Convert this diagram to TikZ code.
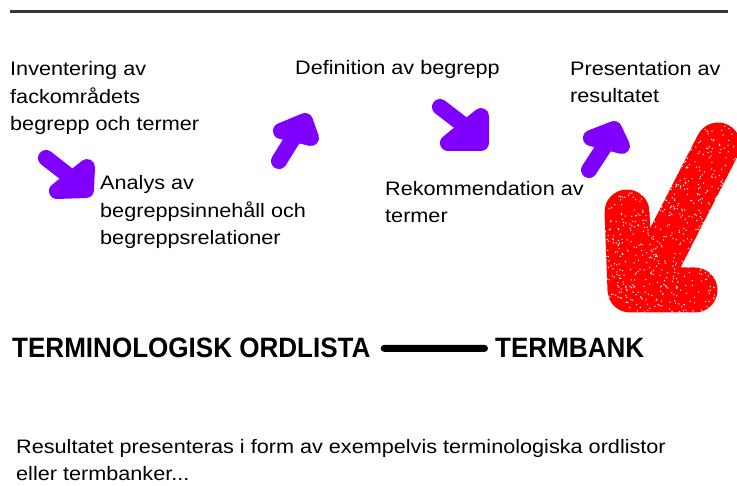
\documentclass[tikz,border=0pt]{standalone}
\usepackage{fontspec}
\setmainfont{Liberation Sans}[FakeStretch=1.11]
\newfontfamily\headfont{Liberation Sans}[FakeStretch=0.93]
\definecolor{violetarrow}{RGB}{128,0,255}
\definecolor{redarrow}{RGB}{255,0,0}
\definecolor{rulegray}{RGB}{55,55,55}
\tikzset{
  bodytext/.style={anchor=base west, inner sep=0pt, align=left,
    font=\fontsize{19.5}{27.5}\selectfont},
  headtext/.style={anchor=base west, inner sep=0pt,
    font=\headfont\bfseries\fontsize{28}{30}\selectfont},
  blob/.style={draw=violetarrow, line width=16pt, line cap=round, line join=round},
  blobhead/.style={blob, fill=violetarrow},
  bigblob/.style={draw=redarrow, line width=45pt, line cap=round, line join=round},
  rulestyle/.style={draw=rulegray, line width=3pt},
  barstyle/.style={draw=black, line width=7pt, line cap=round}
}
\begin{document}
\begin{tikzpicture}[x=1pt,y=-1pt]
\useasboundingbox (0,0) rectangle (737,486);
\fill[white] (0,0) rectangle (737,486);

% top rule
\coordinate (ruleL) at (10,12);
\coordinate (ruleR) at (728,12);
\draw[rulestyle] (ruleL) -- (ruleR);

% texts (anchored at the baseline of their last line)
\node[bodytext] (inv) at (10,131) {Inventering av\\fackområdets\\begrepp och termer};
\node[bodytext] (ana) at (100,245) {Analys av\\begreppsinnehåll och\\begreppsrelationer};
\node[bodytext] (def) at (295,75) {Definition av begrepp};
\node[bodytext] (rek) at (385,223) {Rekommendation av\\termer};
\node[bodytext] (pre) at (570,103) {Presentation av\\resultatet};
\node[bodytext] (res) at (16,481) {Resultatet presenteras i form av exempelvis terminologiska ordlistor\\eller termbanker...};

% red arrow (spray texture)
\draw[bigblob] (718,145) -- (655,268) (627,212) -- (630,290) -- (695,290);
\pgfmathsetseed{7}
\foreach \i in {1,...,900}{
  \pgfmathsetmacro\rx{600+137*rnd}
  \pgfmathsetmacro\ry{118+202*rnd}
  \fill[white] (\rx,\ry) circle (0.75);
}

% violet arrows
\draw[blob] (46,158) -- (78,183);
\filldraw[blobhead] (87,167) -- (86,190) -- (57,191) -- cycle;
\draw[blob] (279,161) -- (297,132);
\filldraw[blobhead] (281,131) -- (305,121) -- (311,138) -- cycle;
\draw[blob] (440,107) -- (470,130);
\filldraw[blobhead] (481,116) -- (481,143) -- (448,143) -- cycle;
\draw[blob] (589,170) -- (606,144);
\filldraw[blobhead] (591,138) -- (614,129) -- (622,146) -- cycle;

% heading
\node[headtext] (ordlista) at (12,358) {TERMINOLOGISK ORDLISTA};
\node[headtext] (termbank) at (495,358) {TERMBANK};
\draw[barstyle] ([xshift=13.5pt]ordlista.east) -- ([xshift=-10.5pt]termbank.west);
\end{tikzpicture}
\end{document}
